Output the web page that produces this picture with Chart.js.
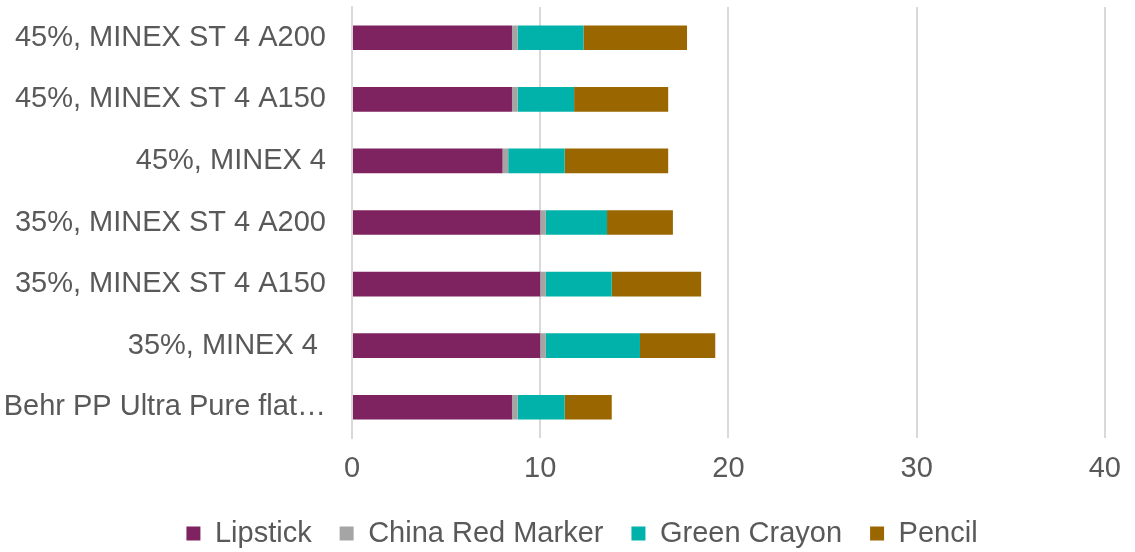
<!DOCTYPE html>
<html>
<head>
<meta charset="utf-8">
<script src="https://cdn.jsdelivr.net/npm/chart.js@4/dist/chart.umd.min.js"></script>
<style>
  html, body { margin: 0; padding: 0; background: #fff; }
  #wrap { width: 1135px; height: 552px; }
</style>
</head>
<body>
<div id="wrap"><canvas id="stainChart"></canvas></div>
<script>
// Datos
var categories = [
    '45%, MINEX ST 4 A200',
    '45%, MINEX ST 4 A150',
    '45%, MINEX 4',
    '35%, MINEX ST 4 A200',
    '35%, MINEX ST 4 A150',
    '35%, MINEX 4 ',
    'Behr PP Ultra Pure flat…'
];
var lipstick = [8.5, 8.5, 8.0, 10.0, 10.0, 10.0, 8.5];
var chinaRedMarker = [0.3, 0.3, 0.3, 0.3, 0.3, 0.3, 0.3];
var greenCrayon = [3.5, 3.0, 3.0, 3.25, 3.5, 5.0, 2.5];
var pencil = [5.5, 5.0, 5.5, 3.5, 4.75, 4.0, 2.5];
var xTicks = [0, 10, 20, 30, 40];

var textColor = '#595959';
var fontFamily = '"Liberation Sans", Arial, sans-serif';

function makeSet(label, data, color) {
    return {
        label: label,
        data: data,
        backgroundColor: color,
        borderWidth: 0,
        categoryPercentage: 1,
        barPercentage: 0.4
    };
}

// Desplazar la leyenda un poco a la derecha, como en el original
var legendShift = {
    id: 'legendShift',
    afterLayout: function(chart) {
        if (chart.legend) {
            chart.legend.left += 25;
            chart.legend.right += 25;
        }
    }
};

document.addEventListener('DOMContentLoaded', function() {
    var ctx = document.getElementById('stainChart');
    new Chart(ctx, {
        type: 'bar',
        data: {
            labels: categories,
            datasets: [
                makeSet('Lipstick', lipstick, '#7f2360'),
                makeSet('China Red Marker', chinaRedMarker, '#a5a5a5'),
                makeSet('Green Crayon', greenCrayon, '#00b2aa'),
                makeSet('Pencil', pencil, '#996600')
            ]
        },
        plugins: [legendShift],
        options: {
            indexAxis: 'y',
            responsive: true,
            maintainAspectRatio: false,
            animation: false,
            layout: {
                padding: { top: 7, right: 21, left: 0, bottom: -6 }
            },
            plugins: {
                legend: {
                    position: 'bottom',
                    labels: {
                        color: textColor,
                        font: { family: fontFamily, size: 29 },
                        boxWidth: 14,
                        boxHeight: 14,
                        padding: 28
                    }
                },
                tooltip: { enabled: false }
            },
            scales: {
                x: {
                    stacked: true,
                    min: 0,
                    max: 40,
                    afterBuildTicks: function(scale) {
                        scale.ticks = xTicks.map(function(v) { return { value: v }; });
                    },
                    afterFit: function(scale) {
                        scale.height = 53;
                    },
                    grid: {
                        color: '#d9d9d9',
                        lineWidth: 2,
                        drawTicks: false
                    },
                    border: { display: false },
                    ticks: {
                        color: textColor,
                        font: { family: fontFamily, size: 29 },
                        padding: 14
                    }
                },
                y: {
                    stacked: true,
                    grid: { display: false, drawTicks: false },
                    border: { color: '#d9d9d9', width: 2 },
                    ticks: {
                        color: textColor,
                        font: { family: fontFamily, size: 29 },
                        padding: 26,
                        autoSkip: false
                    },
                    afterFit: function(scale) {
                        scale.width = 352;
                        scale.paddingTop = 0;
                        scale.paddingBottom = 0;
                    }
                }
            }
        }
    });
});
</script>
</body>
</html>
